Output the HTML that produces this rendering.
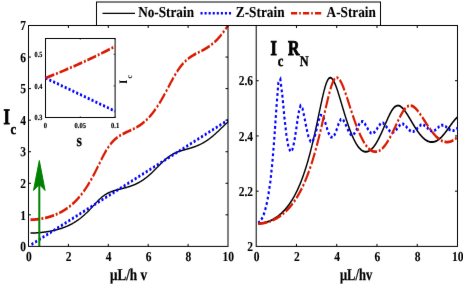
<!DOCTYPE html><html><head><meta charset="utf-8"><style>html,body{margin:0;padding:0;background:#fff}svg{display:block}text{text-rendering:geometricPrecision;font-family:"Liberation Serif",serif;font-weight:bold;fill:#000}</style></head><body>
<svg width="463" height="284" viewBox="0 0 463 284">
<rect width="463" height="284" fill="#fff"/>
<filter id="bl" color-interpolation-filters="sRGB" x="0" y="0" width="463" height="284" filterUnits="userSpaceOnUse"><feConvolveMatrix order="3" kernelMatrix="0.0028 0.0470 0.0028 0.0470 0.8008 0.0470 0.0028 0.0470 0.0028" edgeMode="duplicate" preserveAlpha="true"/></filter><g filter="url(#bl)">
<rect width="463" height="284" fill="#fff"/>
<defs><clipPath id="cl"><rect x="28.5" y="24.5" width="200.5" height="221.9"/></clipPath><clipPath id="cr"><rect x="256.2" y="24.5" width="202.3" height="221.9"/></clipPath></defs>
<g clip-path="url(#cl)" fill="none">
<g transform="scale(0.74,1)"><path d="M41.21,233.07 L41.88,233.06 L42.55,233.05 L43.22,233.04 L43.89,233.03 L44.55,233.01 L45.22,232.99 L45.89,232.97 L46.56,232.95 L47.23,232.93 L47.90,232.90 L48.57,232.88 L49.24,232.85 L49.91,232.82 L50.57,232.79 L51.24,232.75 L51.91,232.71 L52.58,232.68 L53.25,232.63 L53.92,232.59 L54.59,232.55 L55.26,232.50 L55.93,232.45 L56.59,232.40 L57.26,232.35 L57.93,232.29 L58.60,232.24 L59.27,232.18 L59.94,232.11 L60.61,232.05 L61.28,231.98 L61.95,231.91 L62.61,231.84 L63.28,231.77 L63.95,231.69 L64.62,231.62 L65.29,231.54 L65.96,231.45 L66.63,231.37 L67.30,231.28 L67.97,231.19 L68.64,231.09 L69.30,231.00 L69.97,230.90 L70.64,230.80 L71.31,230.69 L71.98,230.58 L72.65,230.47 L73.32,230.36 L73.99,230.24 L74.66,230.12 L75.32,230.00 L75.99,229.87 L76.66,229.74 L77.33,229.61 L78.00,229.47 L78.67,229.33 L79.34,229.19 L80.01,229.04 L80.68,228.89 L81.34,228.74 L82.01,228.58 L82.68,228.42 L83.35,228.25 L84.02,228.08 L84.69,227.91 L85.36,227.73 L86.03,227.55 L86.70,227.36 L87.36,227.17 L88.03,226.98 L88.70,226.78 L89.37,226.57 L90.04,226.36 L90.71,226.15 L91.38,225.93 L92.05,225.70 L92.72,225.47 L93.39,225.24 L94.05,225.00 L94.72,224.75 L95.39,224.50 L96.06,224.25 L96.73,223.98 L97.40,223.72 L98.07,223.44 L98.74,223.16 L99.41,222.88 L100.07,222.58 L100.74,222.28 L101.41,221.98 L102.08,221.67 L102.75,221.35 L103.42,221.02 L104.09,220.69 L104.76,220.35 L105.43,220.01 L106.09,219.66 L106.76,219.30 L107.43,218.93 L108.10,218.56 L108.77,218.17 L109.44,217.79 L110.11,217.39 L110.78,216.98 L111.45,216.57 L112.11,216.15 L112.78,215.73 L113.45,215.29 L114.12,214.85 L114.79,214.40 L115.46,213.95 L116.13,213.48 L116.80,213.01 L117.47,212.53 L118.14,212.05 L118.80,211.56 L119.47,211.06 L120.14,210.55 L120.81,210.04 L121.48,209.52 L122.15,209.00 L122.82,208.47 L123.49,207.94 L124.16,207.40 L124.82,206.86 L125.49,206.32 L126.16,205.78 L126.83,205.23 L127.50,204.68 L128.17,204.14 L128.84,203.60 L129.51,203.06 L130.18,202.52 L130.84,201.99 L131.51,201.47 L132.18,200.95 L132.85,200.45 L133.52,199.95 L134.19,199.46 L134.86,198.99 L135.53,198.53 L136.20,198.08 L136.86,197.65 L137.53,197.23 L138.20,196.83 L138.87,196.43 L139.54,196.06 L140.21,195.69 L140.88,195.35 L141.55,195.01 L142.22,194.69 L142.89,194.38 L143.55,194.08 L144.22,193.79 L144.89,193.52 L145.56,193.26 L146.23,193.01 L146.90,192.77 L147.57,192.54 L148.24,192.31 L148.91,192.10 L149.57,191.90 L150.24,191.70 L150.91,191.51 L151.58,191.33 L152.25,191.15 L152.92,190.99 L153.59,190.82 L154.26,190.67 L154.93,190.51 L155.59,190.37 L156.26,190.22 L156.93,190.08 L157.60,189.95 L158.27,189.81 L158.94,189.68 L159.61,189.55 L160.28,189.43 L160.95,189.30 L161.61,189.18 L162.28,189.06 L162.95,188.94 L163.62,188.81 L164.29,188.69 L164.96,188.57 L165.63,188.45 L166.30,188.33 L166.97,188.20 L167.64,188.07 L168.30,187.95 L168.97,187.82 L169.64,187.68 L170.31,187.55 L170.98,187.41 L171.65,187.27 L172.32,187.13 L172.99,186.98 L173.66,186.83 L174.32,186.67 L174.99,186.52 L175.66,186.35 L176.33,186.18 L177.00,186.01 L177.67,185.83 L178.34,185.65 L179.01,185.46 L179.68,185.27 L180.34,185.07 L181.01,184.87 L181.68,184.66 L182.35,184.44 L183.02,184.22 L183.69,183.99 L184.36,183.75 L185.03,183.51 L185.70,183.26 L186.36,183.00 L187.03,182.74 L187.70,182.47 L188.37,182.19 L189.04,181.91 L189.71,181.62 L190.38,181.32 L191.05,181.01 L191.72,180.70 L192.39,180.38 L193.05,180.05 L193.72,179.71 L194.39,179.36 L195.06,179.01 L195.73,178.65 L196.40,178.28 L197.07,177.91 L197.74,177.53 L198.41,177.13 L199.07,176.74 L199.74,176.33 L200.41,175.92 L201.08,175.50 L201.75,175.07 L202.42,174.64 L203.09,174.19 L203.76,173.75 L204.43,173.29 L205.09,172.83 L205.76,172.37 L206.43,171.89 L207.10,171.42 L207.77,170.94 L208.44,170.45 L209.11,169.96 L209.78,169.46 L210.45,168.96 L211.11,168.46 L211.78,167.96 L212.45,167.46 L213.12,166.95 L213.79,166.44 L214.46,165.94 L215.13,165.43 L215.80,164.92 L216.47,164.42 L217.14,163.92 L217.80,163.43 L218.47,162.93 L219.14,162.45 L219.81,161.97 L220.48,161.49 L221.15,161.03 L221.82,160.57 L222.49,160.12 L223.16,159.67 L223.82,159.24 L224.49,158.82 L225.16,158.41 L225.83,158.01 L226.50,157.62 L227.17,157.24 L227.84,156.87 L228.51,156.51 L229.18,156.16 L229.84,155.83 L230.51,155.50 L231.18,155.19 L231.85,154.89 L232.52,154.60 L233.19,154.32 L233.86,154.04 L234.53,153.78 L235.20,153.53 L235.86,153.29 L236.53,153.05 L237.20,152.83 L237.87,152.61 L238.54,152.40 L239.21,152.20 L239.88,152.00 L240.55,151.81 L241.22,151.63 L241.89,151.45 L242.55,151.28 L243.22,151.12 L243.89,150.95 L244.56,150.80 L245.23,150.64 L245.90,150.49 L246.57,150.34 L247.24,150.20 L247.91,150.06 L248.57,149.91 L249.24,149.77 L249.91,149.64 L250.58,149.50 L251.25,149.36 L251.92,149.23 L252.59,149.09 L253.26,148.95 L253.93,148.82 L254.59,148.68 L255.26,148.54 L255.93,148.40 L256.60,148.25 L257.27,148.11 L257.94,147.96 L258.61,147.81 L259.28,147.65 L259.95,147.50 L260.61,147.34 L261.28,147.17 L261.95,147.01 L262.62,146.83 L263.29,146.66 L263.96,146.48 L264.63,146.29 L265.30,146.10 L265.97,145.90 L266.64,145.70 L267.30,145.49 L267.97,145.28 L268.64,145.06 L269.31,144.84 L269.98,144.61 L270.65,144.37 L271.32,144.13 L271.99,143.88 L272.66,143.62 L273.32,143.36 L273.99,143.09 L274.66,142.81 L275.33,142.53 L276.00,142.24 L276.67,141.94 L277.34,141.63 L278.01,141.32 L278.68,141.00 L279.34,140.67 L280.01,140.34 L280.68,140.00 L281.35,139.65 L282.02,139.29 L282.69,138.93 L283.36,138.56 L284.03,138.18 L284.70,137.80 L285.36,137.41 L286.03,137.01 L286.70,136.60 L287.37,136.19 L288.04,135.78 L288.71,135.35 L289.38,134.93 L290.05,134.49 L290.72,134.05 L291.39,133.60 L292.05,133.15 L292.72,132.70 L293.39,132.24 L294.06,131.78 L294.73,131.31 L295.40,130.84 L296.07,130.37 L296.74,129.89 L297.41,129.42 L298.07,128.94 L298.74,128.46 L299.41,127.98 L300.08,127.50 L300.75,127.02 L301.42,126.54 L302.09,126.06 L302.76,125.59 L303.43,125.12 L304.09,124.65 L304.76,124.18 L305.43,123.72 L306.10,123.27 L306.77,122.82 L307.44,122.37 L308.11,121.93" stroke="#000" stroke-width="1.5" fill="none"  stroke-dashoffset="0"/></g>
<g transform="scale(0.74,1)"><path d="M42.56,244.51 L43.89,243.88 L45.23,243.26 L46.56,242.63 L47.90,242.01 L49.23,241.38 L50.56,240.76 L51.90,240.13 L53.23,239.51 L54.57,238.88 L55.90,238.26 L57.24,237.63 L58.57,237.01 L59.90,236.38 L61.24,235.76 L62.57,235.13 L63.91,234.51 L65.24,233.88 L66.58,233.26 L67.91,232.64 L69.25,232.01 L70.58,231.39 L71.91,230.76 L73.25,230.14 L74.58,229.51 L75.92,228.89 L77.25,228.26 L78.59,227.64 L79.92,227.01 L81.26,226.39 L82.59,225.76 L83.92,225.14 L85.26,224.51 L86.59,223.89 L87.93,223.26 L89.26,222.64 L90.60,222.01 L91.93,221.39 L93.27,220.76 L94.60,220.14 L95.93,219.51 L97.27,218.89 L98.60,218.26 L99.94,217.64 L101.27,217.02 L102.61,216.39 L103.94,215.77 L105.28,215.14 L106.61,214.52 L107.94,213.89 L109.28,213.27 L110.61,212.64 L111.95,212.02 L113.28,211.39 L114.62,210.77 L115.95,210.14 L117.29,209.52 L118.62,208.89 L119.95,208.27 L121.29,207.64 L122.62,207.02 L123.96,206.39 L125.29,205.77 L126.63,205.14 L127.96,204.52 L129.30,203.89 L130.63,203.27 L131.96,202.64 L133.30,202.02 L134.63,201.40 L135.97,200.77 L137.30,200.15 L138.64,199.52 L139.97,198.90 L141.30,198.27 L142.64,197.65 L143.97,197.02 L145.31,196.40 L146.64,195.77 L147.98,195.15 L149.31,194.52 L150.65,193.90 L151.98,193.27 L153.31,192.65 L154.65,192.02 L155.98,191.40 L157.32,190.77 L158.65,190.15 L159.99,189.52 L161.32,188.90 L162.66,188.27 L163.99,187.65 L165.32,187.02 L166.66,186.40 L167.99,185.78 L169.33,185.15 L170.66,184.53 L172.00,183.90 L173.33,183.28 L174.67,182.65 L176.00,182.03 L177.33,181.40 L178.67,180.78 L180.00,180.15 L181.34,179.53 L182.67,178.90 L184.01,178.28 L185.34,177.65 L186.68,177.03 L188.01,176.40 L189.34,175.78 L190.68,175.15 L192.01,174.53 L193.35,173.90 L194.68,173.28 L196.02,172.65 L197.35,172.03 L198.69,171.41 L200.02,170.78 L201.35,170.16 L202.69,169.53 L204.02,168.91 L205.36,168.28 L206.69,167.66 L208.03,167.03 L209.36,166.41 L210.70,165.78 L212.03,165.16 L213.36,164.53 L214.70,163.91 L216.03,163.28 L217.37,162.66 L218.70,162.03 L220.04,161.41 L221.37,160.78 L222.70,160.16 L224.04,159.53 L225.37,158.91 L226.71,158.28 L228.04,157.66 L229.38,157.03 L230.71,156.41 L232.05,155.79 L233.38,155.16 L234.71,154.54 L236.05,153.91 L237.38,153.29 L238.72,152.66 L240.05,152.04 L241.39,151.41 L242.72,150.79 L244.06,150.16 L245.39,149.54 L246.72,148.91 L248.06,148.29 L249.39,147.66 L250.73,147.04 L252.06,146.41 L253.40,145.79 L254.73,145.16 L256.07,144.54 L257.40,143.91 L258.73,143.29 L260.07,142.66 L261.40,142.04 L262.74,141.41 L264.07,140.79 L265.41,140.17 L266.74,139.54 L268.08,138.92 L269.41,138.29 L270.74,137.67 L272.08,137.04 L273.41,136.42 L274.75,135.79 L276.08,135.17 L277.42,134.54 L278.75,133.92 L280.09,133.29 L281.42,132.67 L282.75,132.04 L284.09,131.42 L285.42,130.79 L286.76,130.17 L288.09,129.54 L289.43,128.92 L290.76,128.29 L292.10,127.67 L293.43,127.04 L294.76,126.42 L296.10,125.79 L297.43,125.17 L298.77,124.55 L300.10,123.92 L301.44,123.30 L302.77,122.67 L304.10,122.05 L305.44,121.42 L306.77,120.80 L308.11,120.17" stroke="#0000ff" stroke-width="2.9" fill="none" stroke-dasharray="2.8 2.7" stroke-dashoffset="0"/></g>
<g transform="scale(0.74,1)"><path d="M41.21,219.75 L41.88,219.73 L42.55,219.71 L43.22,219.69 L43.89,219.67 L44.55,219.64 L45.22,219.61 L45.89,219.58 L46.56,219.54 L47.23,219.50 L47.90,219.46 L48.57,219.42 L49.24,219.37 L49.91,219.31 L50.57,219.26 L51.24,219.20 L51.91,219.14 L52.58,219.07 L53.25,219.00 L53.92,218.93 L54.59,218.85 L55.26,218.77 L55.93,218.69 L56.59,218.60 L57.26,218.51 L57.93,218.42 L58.60,218.32 L59.27,218.22 L59.94,218.12 L60.61,218.01 L61.28,217.90 L61.95,217.78 L62.61,217.66 L63.28,217.54 L63.95,217.41 L64.62,217.28 L65.29,217.14 L65.96,217.00 L66.63,216.86 L67.30,216.71 L67.97,216.56 L68.64,216.40 L69.30,216.24 L69.97,216.07 L70.64,215.90 L71.31,215.73 L71.98,215.55 L72.65,215.36 L73.32,215.17 L73.99,214.98 L74.66,214.78 L75.32,214.57 L75.99,214.36 L76.66,214.15 L77.33,213.93 L78.00,213.70 L78.67,213.47 L79.34,213.24 L80.01,213.00 L80.68,212.75 L81.34,212.49 L82.01,212.23 L82.68,211.97 L83.35,211.70 L84.02,211.42 L84.69,211.13 L85.36,210.84 L86.03,210.55 L86.70,210.24 L87.36,209.93 L88.03,209.61 L88.70,209.29 L89.37,208.96 L90.04,208.62 L90.71,208.27 L91.38,207.92 L92.05,207.55 L92.72,207.18 L93.39,206.81 L94.05,206.42 L94.72,206.03 L95.39,205.62 L96.06,205.21 L96.73,204.79 L97.40,204.36 L98.07,203.92 L98.74,203.48 L99.41,203.02 L100.07,202.56 L100.74,202.08 L101.41,201.60 L102.08,201.10 L102.75,200.60 L103.42,200.08 L104.09,199.55 L104.76,199.02 L105.43,198.47 L106.09,197.91 L106.76,197.34 L107.43,196.76 L108.10,196.17 L108.77,195.57 L109.44,194.95 L110.11,194.33 L110.78,193.69 L111.45,193.04 L112.11,192.38 L112.78,191.70 L113.45,191.01 L114.12,190.31 L114.79,189.60 L115.46,188.88 L116.13,188.14 L116.80,187.39 L117.47,186.62 L118.14,185.85 L118.80,185.06 L119.47,184.26 L120.14,183.44 L120.81,182.61 L121.48,181.77 L122.15,180.92 L122.82,180.05 L123.49,179.17 L124.16,178.28 L124.82,177.38 L125.49,176.47 L126.16,175.54 L126.83,174.60 L127.50,173.66 L128.17,172.70 L128.84,171.73 L129.51,170.76 L130.18,169.77 L130.84,168.78 L131.51,167.79 L132.18,166.79 L132.85,165.78 L133.52,164.77 L134.19,163.76 L134.86,162.75 L135.53,161.75 L136.20,160.74 L136.86,159.74 L137.53,158.75 L138.20,157.77 L138.87,156.80 L139.54,155.84 L140.21,154.90 L140.88,153.97 L141.55,153.06 L142.22,152.17 L142.89,151.31 L143.55,150.46 L144.22,149.64 L144.89,148.84 L145.56,148.06 L146.23,147.31 L146.90,146.59 L147.57,145.89 L148.24,145.21 L148.91,144.55 L149.57,143.92 L150.24,143.31 L150.91,142.72 L151.58,142.16 L152.25,141.62 L152.92,141.09 L153.59,140.59 L154.26,140.11 L154.93,139.64 L155.59,139.19 L156.26,138.76 L156.93,138.35 L157.60,137.95 L158.27,137.57 L158.94,137.19 L159.61,136.84 L160.28,136.49 L160.95,136.16 L161.61,135.84 L162.28,135.53 L162.95,135.23 L163.62,134.94 L164.29,134.66 L164.96,134.38 L165.63,134.12 L166.30,133.86 L166.97,133.60 L167.64,133.35 L168.30,133.11 L168.97,132.87 L169.64,132.63 L170.31,132.40 L170.98,132.17 L171.65,131.94 L172.32,131.72 L172.99,131.49 L173.66,131.27 L174.32,131.04 L174.99,130.82 L175.66,130.59 L176.33,130.36 L177.00,130.13 L177.67,129.90 L178.34,129.67 L179.01,129.43 L179.68,129.19 L180.34,128.94 L181.01,128.69 L181.68,128.44 L182.35,128.18 L183.02,127.91 L183.69,127.64 L184.36,127.37 L185.03,127.08 L185.70,126.79 L186.36,126.50 L187.03,126.19 L187.70,125.88 L188.37,125.55 L189.04,125.22 L189.71,124.89 L190.38,124.54 L191.05,124.18 L191.72,123.81 L192.39,123.44 L193.05,123.05 L193.72,122.66 L194.39,122.25 L195.06,121.83 L195.73,121.40 L196.40,120.96 L197.07,120.51 L197.74,120.04 L198.41,119.57 L199.07,119.08 L199.74,118.58 L200.41,118.07 L201.08,117.55 L201.75,117.01 L202.42,116.46 L203.09,115.90 L203.76,115.33 L204.43,114.74 L205.09,114.14 L205.76,113.53 L206.43,112.90 L207.10,112.26 L207.77,111.61 L208.44,110.94 L209.11,110.26 L209.78,109.57 L210.45,108.86 L211.11,108.15 L211.78,107.41 L212.45,106.67 L213.12,105.91 L213.79,105.14 L214.46,104.36 L215.13,103.57 L215.80,102.76 L216.47,101.95 L217.14,101.12 L217.80,100.28 L218.47,99.43 L219.14,98.57 L219.81,97.70 L220.48,96.82 L221.15,95.93 L221.82,95.03 L222.49,94.13 L223.16,93.22 L223.82,92.30 L224.49,91.38 L225.16,90.45 L225.83,89.52 L226.50,88.59 L227.17,87.65 L227.84,86.71 L228.51,85.78 L229.18,84.84 L229.84,83.91 L230.51,82.97 L231.18,82.05 L231.85,81.13 L232.52,80.21 L233.19,79.30 L233.86,78.40 L234.53,77.51 L235.20,76.64 L235.86,75.77 L236.53,74.92 L237.20,74.08 L237.87,73.26 L238.54,72.45 L239.21,71.66 L239.88,70.89 L240.55,70.13 L241.22,69.40 L241.89,68.68 L242.55,67.98 L243.22,67.30 L243.89,66.64 L244.56,66.00 L245.23,65.37 L245.90,64.77 L246.57,64.19 L247.24,63.62 L247.91,63.07 L248.57,62.54 L249.24,62.03 L249.91,61.53 L250.58,61.05 L251.25,60.59 L251.92,60.14 L252.59,59.71 L253.26,59.29 L253.93,58.89 L254.59,58.50 L255.26,58.12 L255.93,57.75 L256.60,57.40 L257.27,57.06 L257.94,56.72 L258.61,56.40 L259.28,56.08 L259.95,55.78 L260.61,55.48 L261.28,55.18 L261.95,54.90 L262.62,54.62 L263.29,54.35 L263.96,54.08 L264.63,53.81 L265.30,53.55 L265.97,53.29 L266.64,53.03 L267.30,52.78 L267.97,52.52 L268.64,52.27 L269.31,52.02 L269.98,51.77 L270.65,51.51 L271.32,51.26 L271.99,51.00 L272.66,50.75 L273.32,50.49 L273.99,50.22 L274.66,49.95 L275.33,49.68 L276.00,49.41 L276.67,49.13 L277.34,48.84 L278.01,48.55 L278.68,48.25 L279.34,47.95 L280.01,47.64 L280.68,47.32 L281.35,46.99 L282.02,46.66 L282.69,46.32 L283.36,45.97 L284.03,45.61 L284.70,45.25 L285.36,44.87 L286.03,44.48 L286.70,44.09 L287.37,43.68 L288.04,43.27 L288.71,42.84 L289.38,42.40 L290.05,41.95 L290.72,41.50 L291.39,41.03 L292.05,40.54 L292.72,40.05 L293.39,39.54 L294.06,39.03 L294.73,38.50 L295.40,37.95 L296.07,37.40 L296.74,36.83 L297.41,36.26 L298.07,35.67 L298.74,35.06 L299.41,34.45 L300.08,33.82 L300.75,33.18 L301.42,32.53 L302.09,31.86 L302.76,31.18 L303.43,30.49 L304.09,29.79 L304.76,29.08 L305.43,28.36 L306.10,27.62 L306.77,26.87 L307.44,26.11 L308.11,25.35" stroke="#d91a00" stroke-width="2.8" fill="none" stroke-dasharray="12.4 2.4 2.6 2.4" stroke-dashoffset="0"/></g>
</g>
<path d="M39.3,246.4 V184" stroke="#008000" stroke-width="2.0" fill="none"/>
<path d="M39.3,160.5 L45.1,190.5 L39.3,184.5 L33.5,190.5 Z" fill="#008000" stroke="#008000" stroke-width="1" stroke-linejoin="round"/>
<g fill="none" stroke="#000" stroke-width="1">
<rect x="28.5" y="25.5" width="199.5" height="220.9"/>
<rect x="256.2" y="25.5" width="201.3" height="220.9"/>
<path d="M68.4,246.4 v-2.5 M68.4,25.5 v2.5 M108.3,246.4 v-2.5 M108.3,25.5 v2.5 M148.2,246.4 v-2.5 M148.2,25.5 v2.5 M188.1,246.4 v-2.5 M188.1,25.5 v2.5 M28.5,214.843 h2.5 M228,214.843 h-2.5 M28.5,183.286 h2.5 M228,183.286 h-2.5 M28.5,151.729 h2.5 M228,151.729 h-2.5 M28.5,120.171 h2.5 M228,120.171 h-2.5 M28.5,88.6143 h2.5 M228,88.6143 h-2.5 M28.5,57.0571 h2.5 M228,57.0571 h-2.5 M296.46,246.4 v-2.5 M296.46,25.5 v2.5 M336.72,246.4 v-2.5 M336.72,25.5 v2.5 M376.98,246.4 v-2.5 M376.98,25.5 v2.5 M417.24,246.4 v-2.5 M417.24,25.5 v2.5 M256.2,191.175 h2.5 M457.5,191.175 h-2.5 M256.2,135.95 h2.5 M457.5,135.95 h-2.5 M256.2,80.725 h2.5 M457.5,80.725 h-2.5"/>
</g>
<text transform="translate(26,251.1) scale(0.84,1)" font-size="13.7" text-anchor="end" stroke="#000" stroke-width="0.1">0</text>
<text transform="translate(26,219.543) scale(0.84,1)" font-size="13.7" text-anchor="end" stroke="#000" stroke-width="0.1">1</text>
<text transform="translate(26,187.986) scale(0.84,1)" font-size="13.7" text-anchor="end" stroke="#000" stroke-width="0.1">2</text>
<text transform="translate(26,156.429) scale(0.84,1)" font-size="13.7" text-anchor="end" stroke="#000" stroke-width="0.1">3</text>
<text transform="translate(26,124.871) scale(0.84,1)" font-size="13.7" text-anchor="end" stroke="#000" stroke-width="0.1">4</text>
<text transform="translate(26,93.3143) scale(0.84,1)" font-size="13.7" text-anchor="end" stroke="#000" stroke-width="0.1">5</text>
<text transform="translate(26,61.7571) scale(0.84,1)" font-size="13.7" text-anchor="end" stroke="#000" stroke-width="0.1">6</text>
<text transform="translate(26,30.2) scale(0.84,1)" font-size="13.7" text-anchor="end" stroke="#000" stroke-width="0.1">7</text>
<text transform="translate(28.8,261.4) scale(0.84,1)" font-size="13.7" text-anchor="middle" stroke="#000" stroke-width="0.1">0</text>
<text transform="translate(256.5,261.4) scale(0.84,1)" font-size="13.7" text-anchor="middle" stroke="#000" stroke-width="0.1">0</text>
<text transform="translate(68.7,261.4) scale(0.84,1)" font-size="13.7" text-anchor="middle" stroke="#000" stroke-width="0.1">2</text>
<text transform="translate(296.76,261.4) scale(0.84,1)" font-size="13.7" text-anchor="middle" stroke="#000" stroke-width="0.1">2</text>
<text transform="translate(108.6,261.4) scale(0.84,1)" font-size="13.7" text-anchor="middle" stroke="#000" stroke-width="0.1">4</text>
<text transform="translate(337.02,261.4) scale(0.84,1)" font-size="13.7" text-anchor="middle" stroke="#000" stroke-width="0.1">4</text>
<text transform="translate(148.5,261.4) scale(0.84,1)" font-size="13.7" text-anchor="middle" stroke="#000" stroke-width="0.1">6</text>
<text transform="translate(377.28,261.4) scale(0.84,1)" font-size="13.7" text-anchor="middle" stroke="#000" stroke-width="0.1">6</text>
<text transform="translate(188.4,261.4) scale(0.84,1)" font-size="13.7" text-anchor="middle" stroke="#000" stroke-width="0.1">8</text>
<text transform="translate(417.54,261.4) scale(0.84,1)" font-size="13.7" text-anchor="middle" stroke="#000" stroke-width="0.1">8</text>
<text transform="translate(228.3,261.4) scale(0.84,1)" font-size="13.7" text-anchor="middle" stroke="#000" stroke-width="0.1">10</text>
<text transform="translate(457.8,261.4) scale(0.84,1)" font-size="13.7" text-anchor="middle" stroke="#000" stroke-width="0.1">10</text>
<text transform="translate(253,251.1) scale(0.84,1)" font-size="13.7" text-anchor="end" stroke="#000" stroke-width="0.1">2</text>
<text transform="translate(253,195.875) scale(0.84,1)" font-size="13.7" text-anchor="end" stroke="#000" stroke-width="0.1">2.2</text>
<text transform="translate(253,140.65) scale(0.84,1)" font-size="13.7" text-anchor="end" stroke="#000" stroke-width="0.1">2.4</text>
<text transform="translate(253,85.425) scale(0.84,1)" font-size="13.7" text-anchor="end" stroke="#000" stroke-width="0.1">2.6</text>
<text transform="translate(128.5,280.2) scale(0.8,1)" font-size="16.5" text-anchor="middle" stroke="#000" stroke-width="0.25">μL/h v</text>
<text transform="translate(356.1,280.2) scale(0.76,1)" font-size="16.5" text-anchor="middle" stroke="#000" stroke-width="0.25">μL/hv</text>
<text transform="translate(3.6,124) scale(0.75,1)" font-size="22" text-anchor="start" stroke="#000" stroke-width="0.9">I</text>
<text transform="translate(10.6,134) scale(0.85,1)" font-size="15" text-anchor="start" stroke="#000" stroke-width="0.4">c</text>
<text transform="translate(270.6,55) scale(0.78,1)" font-size="21" text-anchor="start" stroke="#000" stroke-width="0.9">I</text>
<text transform="translate(277.8,65.5) scale(0.82,1)" font-size="15.5" text-anchor="start" stroke="#000" stroke-width="0.4">c</text>
<text transform="translate(287.9,55) scale(0.76,1)" font-size="21" text-anchor="start" stroke="#000" stroke-width="0.9">R</text>
<text transform="translate(299.8,65.5) scale(0.82,1)" font-size="15" text-anchor="start" stroke="#000" stroke-width="0.4">N</text>
<g clip-path="url(#cr)" fill="none">
<g transform="scale(0.74,1)"><path d="M348.94,223.68 L349.61,223.65 L350.29,223.61 L350.96,223.56 L351.64,223.50 L352.31,223.44 L352.99,223.37 L353.66,223.29 L354.34,223.21 L355.01,223.11 L355.69,223.01 L356.36,222.90 L357.04,222.79 L357.71,222.66 L358.39,222.53 L359.06,222.39 L359.74,222.24 L360.41,222.09 L361.09,221.92 L361.76,221.75 L362.44,221.57 L363.11,221.38 L363.79,221.18 L364.46,220.97 L365.14,220.76 L365.81,220.53 L366.49,220.30 L367.16,220.06 L367.84,219.80 L368.51,219.54 L369.19,219.27 L369.86,218.99 L370.54,218.70 L371.21,218.40 L371.88,218.09 L372.56,217.77 L373.23,217.44 L373.91,217.09 L374.58,216.74 L375.26,216.38 L375.93,216.00 L376.61,215.61 L377.28,215.21 L377.96,214.80 L378.63,214.38 L379.31,213.94 L379.98,213.50 L380.66,213.03 L381.33,212.56 L382.01,212.07 L382.68,211.57 L383.36,211.05 L384.03,210.52 L384.71,209.98 L385.38,209.42 L386.06,208.84 L386.73,208.25 L387.41,207.65 L388.08,207.02 L388.76,206.38 L389.43,205.73 L390.11,205.05 L390.78,204.36 L391.46,203.65 L392.13,202.92 L392.81,202.17 L393.48,201.40 L394.16,200.62 L394.83,199.81 L395.51,198.98 L396.18,198.13 L396.86,197.26 L397.53,196.36 L398.21,195.45 L398.88,194.51 L399.56,193.54 L400.23,192.55 L400.91,191.54 L401.58,190.50 L402.26,189.43 L402.93,188.34 L403.61,187.22 L404.28,186.08 L404.96,184.90 L405.63,183.70 L406.31,182.47 L406.98,181.20 L407.66,179.91 L408.33,178.58 L409.01,177.23 L409.68,175.84 L410.36,174.41 L411.03,172.96 L411.71,171.47 L412.38,169.94 L413.06,168.38 L413.73,166.79 L414.41,165.16 L415.08,163.49 L415.76,161.78 L416.43,160.04 L417.11,158.26 L417.78,156.44 L418.46,154.59 L419.13,152.70 L419.81,150.77 L420.48,148.80 L421.16,146.79 L421.83,144.75 L422.51,142.67 L423.18,140.55 L423.86,138.40 L424.53,136.22 L425.21,134.00 L425.88,131.75 L426.56,129.48 L427.23,127.17 L427.91,124.84 L428.58,122.49 L429.26,120.13 L429.93,117.74 L430.61,115.35 L431.28,112.96 L431.96,110.57 L432.63,108.18 L433.31,105.81 L433.98,103.46 L434.66,101.15 L435.33,98.88 L436.01,96.67 L436.68,94.52 L437.36,92.44 L438.03,90.46 L438.71,88.58 L439.38,86.82 L440.06,85.19 L440.73,83.70 L441.41,82.36 L442.08,81.18 L442.76,80.16 L443.43,79.32 L444.11,78.65 L444.78,78.16 L445.45,77.84 L446.13,77.69 L446.80,77.71 L447.48,77.89 L448.15,78.22 L448.83,78.69 L449.50,79.30 L450.18,80.04 L450.85,80.89 L451.53,81.85 L452.20,82.92 L452.88,84.08 L453.55,85.32 L454.23,86.63 L454.90,88.01 L455.58,89.45 L456.25,90.95 L456.93,92.48 L457.60,94.06 L458.28,95.67 L458.95,97.30 L459.63,98.95 L460.30,100.62 L460.98,102.31 L461.65,103.99 L462.33,105.68 L463.00,107.37 L463.68,109.05 L464.35,110.72 L465.03,112.38 L465.70,114.03 L466.38,115.65 L467.05,117.26 L467.73,118.84 L468.40,120.40 L469.08,121.93 L469.75,123.43 L470.43,124.91 L471.10,126.35 L471.78,127.76 L472.45,129.13 L473.13,130.47 L473.80,131.77 L474.48,133.04 L475.15,134.27 L475.83,135.46 L476.50,136.61 L477.18,137.71 L477.85,138.78 L478.53,139.81 L479.20,140.80 L479.88,141.75 L480.55,142.65 L481.23,143.51 L481.90,144.33 L482.58,145.10 L483.25,145.84 L483.93,146.53 L484.60,147.18 L485.28,147.78 L485.95,148.34 L486.63,148.86 L487.30,149.34 L487.98,149.77 L488.65,150.16 L489.33,150.50 L490.00,150.81 L490.68,151.07 L491.35,151.28 L492.03,151.46 L492.70,151.59 L493.38,151.68 L494.05,151.72 L494.73,151.73 L495.40,151.69 L496.08,151.61 L496.75,151.49 L497.43,151.32 L498.10,151.12 L498.78,150.87 L499.45,150.58 L500.13,150.25 L500.80,149.88 L501.48,149.48 L502.15,149.03 L502.83,148.54 L503.50,148.01 L504.18,147.44 L504.85,146.84 L505.53,146.20 L506.20,145.52 L506.88,144.80 L507.55,144.05 L508.23,143.27 L508.90,142.45 L509.58,141.60 L510.25,140.71 L510.93,139.80 L511.60,138.85 L512.28,137.88 L512.95,136.88 L513.63,135.85 L514.30,134.81 L514.98,133.73 L515.65,132.64 L516.33,131.53 L517.00,130.41 L517.68,129.27 L518.35,128.12 L519.02,126.96 L519.70,125.80 L520.37,124.63 L521.05,123.47 L521.72,122.31 L522.40,121.15 L523.07,120.01 L523.75,118.89 L524.42,117.79 L525.10,116.71 L525.77,115.65 L526.45,114.63 L527.12,113.65 L527.80,112.71 L528.47,111.81 L529.15,110.96 L529.82,110.17 L530.50,109.43 L531.17,108.75 L531.85,108.13 L532.52,107.57 L533.20,107.08 L533.87,106.66 L534.55,106.31 L535.22,106.02 L535.90,105.80 L536.57,105.66 L537.25,105.58 L537.92,105.56 L538.60,105.62 L539.27,105.73 L539.95,105.91 L540.62,106.14 L541.30,106.44 L541.97,106.78 L542.65,107.18 L543.32,107.63 L544.00,108.12 L544.67,108.65 L545.35,109.23 L546.02,109.84 L546.70,110.48 L547.37,111.16 L548.05,111.86 L548.72,112.59 L549.40,113.34 L550.07,114.11 L550.75,114.90 L551.42,115.71 L552.10,116.52 L552.77,117.35 L553.45,118.18 L554.12,119.02 L554.80,119.87 L555.47,120.71 L556.15,121.56 L556.82,122.40 L557.50,123.24 L558.17,124.07 L558.85,124.90 L559.52,125.72 L560.20,126.53 L560.87,127.33 L561.55,128.11 L562.22,128.88 L562.90,129.64 L563.57,130.38 L564.25,131.11 L564.92,131.82 L565.60,132.51 L566.27,133.18 L566.95,133.83 L567.62,134.46 L568.30,135.06 L568.97,135.65 L569.65,136.21 L570.32,136.75 L571.00,137.27 L571.67,137.76 L572.35,138.22 L573.02,138.66 L573.70,139.08 L574.37,139.47 L575.05,139.83 L575.72,140.17 L576.40,140.48 L577.07,140.76 L577.75,141.02 L578.42,141.24 L579.10,141.44 L579.77,141.61 L580.45,141.76 L581.12,141.87 L581.80,141.96 L582.47,142.02 L583.15,142.05 L583.82,142.05 L584.50,142.02 L585.17,141.97 L585.85,141.89 L586.52,141.77 L587.20,141.64 L587.87,141.47 L588.55,141.27 L589.22,141.05 L589.90,140.80 L590.57,140.53 L591.25,140.23 L591.92,139.90 L592.59,139.54 L593.27,139.16 L593.94,138.76 L594.62,138.33 L595.29,137.88 L595.97,137.41 L596.64,136.91 L597.32,136.39 L597.99,135.85 L598.67,135.30 L599.34,134.72 L600.02,134.12 L600.69,133.51 L601.37,132.89 L602.04,132.25 L602.72,131.59 L603.39,130.93 L604.07,130.25 L604.74,129.57 L605.42,128.88 L606.09,128.18 L606.77,127.49 L607.44,126.79 L608.12,126.09 L608.79,125.39 L609.47,124.70 L610.14,124.01 L610.82,123.33 L611.49,122.66 L612.17,122.01 L612.84,121.37 L613.52,120.75 L614.19,120.15 L614.87,119.57 L615.54,119.01 L616.22,118.48 L616.89,117.98 L617.57,117.50 L618.24,117.06" stroke="#000" stroke-width="1.9" fill="none"  stroke-dashoffset="0"/></g>
<g transform="scale(0.74,1)"><path d="M348.94,223.14 L351.66,221.28 L354.38,218.00 L357.10,213.00 L359.82,205.83 L362.54,195.79 L365.26,181.96 L367.98,163.19 L370.70,138.50 L373.42,108.82 L376.14,83.02 L378.86,79.49 L381.58,95.76 L384.30,116.99 L387.02,135.00 L389.74,146.79 L392.46,151.61 L395.18,149.50 L397.90,140.97 L400.62,127.55 L403.34,113.40 L406.06,105.80 L408.78,108.55 L411.50,117.84 L414.22,128.40 L416.94,136.83 L419.66,141.43 L422.38,141.52 L425.10,137.17 L427.82,129.40 L430.54,120.73 L433.26,115.18 L435.99,115.45 L438.71,120.49 L441.43,127.30 L444.15,133.31 L446.87,136.94 L449.59,137.40 L452.31,134.64 L455.03,129.41 L457.75,123.47 L460.47,119.45 L463.19,119.22 L465.91,122.43 L468.63,127.23 L471.35,131.71 L474.07,134.53 L476.79,134.99 L479.51,133.00 L482.23,129.14 L484.95,124.77 L487.67,121.76 L490.39,121.47 L493.11,123.77 L495.83,127.38 L498.55,130.85 L501.27,133.08 L503.99,133.45 L506.71,131.88 L509.43,128.86 L512.15,125.48 L514.87,123.16 L517.59,122.94 L520.31,124.71 L523.03,127.57 L525.75,130.34 L528.47,132.12 L531.19,132.39 L533.91,131.08 L536.64,128.62 L539.36,125.91 L542.08,124.10 L544.80,123.94 L547.52,125.40 L550.24,127.74 L552.96,130.01 L555.68,131.45 L558.40,131.63 L561.12,130.49 L563.84,128.43 L566.56,126.20 L569.28,124.75 L572.00,124.67 L574.72,125.92 L577.44,127.88 L580.16,129.78 L582.88,130.96 L585.60,131.06 L588.32,130.04 L591.04,128.27 L593.76,126.41 L596.48,125.24 L599.20,125.23 L601.92,126.32 L604.64,128.00 L607.36,129.61 L610.08,130.58 L612.80,130.61 L615.52,129.69 L618.24,128.14" stroke="#0000ff" stroke-width="2.9" fill="none" stroke-dasharray="2.8 2.7" stroke-dashoffset="0"/></g>
<g transform="scale(0.74,1)"><path d="M348.94,223.69 L349.61,223.66 L350.29,223.63 L350.96,223.58 L351.64,223.54 L352.31,223.48 L352.99,223.43 L353.66,223.36 L354.34,223.29 L355.01,223.21 L355.69,223.12 L356.36,223.03 L357.04,222.93 L357.71,222.83 L358.39,222.72 L359.06,222.60 L359.74,222.47 L360.41,222.34 L361.09,222.21 L361.76,222.06 L362.44,221.91 L363.11,221.75 L363.79,221.58 L364.46,221.41 L365.14,221.23 L365.81,221.04 L366.49,220.85 L367.16,220.64 L367.84,220.43 L368.51,220.21 L369.19,219.99 L369.86,219.75 L370.54,219.51 L371.21,219.26 L371.88,219.00 L372.56,218.74 L373.23,218.46 L373.91,218.18 L374.58,217.89 L375.26,217.59 L375.93,217.28 L376.61,216.96 L377.28,216.63 L377.96,216.29 L378.63,215.94 L379.31,215.58 L379.98,215.22 L380.66,214.84 L381.33,214.45 L382.01,214.05 L382.68,213.64 L383.36,213.22 L384.03,212.79 L384.71,212.35 L385.38,211.90 L386.06,211.43 L386.73,210.95 L387.41,210.46 L388.08,209.96 L388.76,209.44 L389.43,208.91 L390.11,208.37 L390.78,207.82 L391.46,207.25 L392.13,206.67 L392.81,206.07 L393.48,205.46 L394.16,204.83 L394.83,204.19 L395.51,203.54 L396.18,202.86 L396.86,202.17 L397.53,201.47 L398.21,200.75 L398.88,200.01 L399.56,199.25 L400.23,198.48 L400.91,197.68 L401.58,196.87 L402.26,196.04 L402.93,195.19 L403.61,194.32 L404.28,193.43 L404.96,192.51 L405.63,191.58 L406.31,190.63 L406.98,189.65 L407.66,188.66 L408.33,187.64 L409.01,186.59 L409.68,185.52 L410.36,184.43 L411.03,183.31 L411.71,182.17 L412.38,181.00 L413.06,179.81 L413.73,178.59 L414.41,177.34 L415.08,176.07 L415.76,174.77 L416.43,173.43 L417.11,172.07 L417.78,170.68 L418.46,169.26 L419.13,167.82 L419.81,166.34 L420.48,164.83 L421.16,163.29 L421.83,161.72 L422.51,160.12 L423.18,158.48 L423.86,156.82 L424.53,155.12 L425.21,153.39 L425.88,151.62 L426.56,149.83 L427.23,148.00 L427.91,146.14 L428.58,144.26 L429.26,142.34 L429.93,140.39 L430.61,138.41 L431.28,136.40 L431.96,134.37 L432.63,132.30 L433.31,130.21 L433.98,128.10 L434.66,125.97 L435.33,123.82 L436.01,121.65 L436.68,119.47 L437.36,117.27 L438.03,115.07 L438.71,112.87 L439.38,110.67 L440.06,108.47 L440.73,106.29 L441.41,104.13 L442.08,101.99 L442.76,99.89 L443.43,97.82 L444.11,95.81 L444.78,93.86 L445.45,91.97 L446.13,90.16 L446.80,88.44 L447.48,86.83 L448.15,85.32 L448.83,83.94 L449.50,82.68 L450.18,81.55 L450.85,80.57 L451.53,79.72 L452.20,79.02 L452.88,78.47 L453.55,78.06 L454.23,77.80 L454.90,77.68 L455.58,77.71 L456.25,77.88 L456.93,78.17 L457.60,78.59 L458.28,79.12 L458.95,79.76 L459.63,80.50 L460.30,81.34 L460.98,82.27 L461.65,83.28 L462.33,84.36 L463.00,85.51 L463.68,86.73 L464.35,88.01 L465.03,89.33 L465.70,90.70 L466.38,92.11 L467.05,93.55 L467.73,95.02 L468.40,96.51 L469.08,98.02 L469.75,99.55 L470.43,101.09 L471.10,102.64 L471.78,104.19 L472.45,105.74 L473.13,107.30 L473.80,108.84 L474.48,110.38 L475.15,111.91 L475.83,113.43 L476.50,114.93 L477.18,116.42 L477.85,117.89 L478.53,119.34 L479.20,120.77 L479.88,122.17 L480.55,123.55 L481.23,124.90 L481.90,126.23 L482.58,127.53 L483.25,128.80 L483.93,130.04 L484.60,131.25 L485.28,132.44 L485.95,133.59 L486.63,134.70 L487.30,135.78 L487.98,136.83 L488.65,137.84 L489.33,138.82 L490.00,139.77 L490.68,140.68 L491.35,141.56 L492.03,142.40 L492.70,143.21 L493.38,143.98 L494.05,144.71 L494.73,145.41 L495.40,146.06 L496.08,146.69 L496.75,147.28 L497.43,147.83 L498.10,148.34 L498.78,148.82 L499.45,149.26 L500.13,149.67 L500.80,150.04 L501.48,150.37 L502.15,150.67 L502.83,150.93 L503.50,151.15 L504.18,151.34 L504.85,151.49 L505.53,151.60 L506.20,151.68 L506.88,151.72 L507.55,151.73 L508.23,151.70 L508.90,151.64 L509.58,151.54 L510.25,151.40 L510.93,151.23 L511.60,151.02 L512.28,150.78 L512.95,150.51 L513.63,150.20 L514.30,149.85 L514.98,149.48 L515.65,149.07 L516.33,148.62 L517.00,148.15 L517.68,147.63 L518.35,147.09 L519.02,146.51 L519.70,145.90 L520.37,145.27 L521.05,144.60 L521.72,143.90 L522.40,143.17 L523.07,142.42 L523.75,141.63 L524.42,140.82 L525.10,139.99 L525.77,139.12 L526.45,138.24 L527.12,137.32 L527.80,136.39 L528.47,135.44 L529.15,134.47 L529.82,133.47 L530.50,132.47 L531.17,131.44 L531.85,130.41 L532.52,129.36 L533.20,128.30 L533.87,127.24 L534.55,126.17 L535.22,125.10 L535.90,124.03 L536.57,122.96 L537.25,121.89 L537.92,120.84 L538.60,119.79 L539.27,118.76 L539.95,117.75 L540.62,116.75 L541.30,115.78 L541.97,114.84 L542.65,113.93 L543.32,113.05 L544.00,112.21 L544.67,111.41 L545.35,110.65 L546.02,109.93 L546.70,109.26 L547.37,108.65 L548.05,108.08 L548.72,107.57 L549.40,107.12 L550.07,106.73 L550.75,106.39 L551.42,106.11 L552.10,105.89 L552.77,105.73 L553.45,105.62 L554.12,105.57 L554.80,105.57 L555.47,105.63 L556.15,105.75 L556.82,105.91 L557.50,106.13 L558.17,106.40 L558.85,106.71 L559.52,107.07 L560.20,107.46 L560.87,107.90 L561.55,108.37 L562.22,108.88 L562.90,109.41 L563.57,109.99 L564.25,110.59 L564.92,111.21 L565.60,111.86 L566.27,112.53 L566.95,113.22 L567.62,113.93 L568.30,114.65 L568.97,115.38 L569.65,116.13 L570.32,116.88 L571.00,117.64 L571.67,118.42 L572.35,119.19 L573.02,119.96 L573.70,120.74 L574.37,121.52 L575.05,122.30 L575.72,123.07 L576.40,123.84 L577.07,124.60 L577.75,125.36 L578.42,126.11 L579.10,126.85 L579.77,127.58 L580.45,128.30 L581.12,129.01 L581.80,129.70 L582.47,130.38 L583.15,131.05 L583.82,131.70 L584.50,132.34 L585.17,132.96 L585.85,133.57 L586.52,134.16 L587.20,134.73 L587.87,135.28 L588.55,135.81 L589.22,136.32 L589.90,136.81 L590.57,137.29 L591.25,137.74 L591.92,138.17 L592.59,138.58 L593.27,138.97 L593.94,139.33 L594.62,139.68 L595.29,140.00 L595.97,140.30 L596.64,140.57 L597.32,140.82 L597.99,141.05 L598.67,141.26 L599.34,141.44 L600.02,141.60 L600.69,141.74 L601.37,141.85 L602.04,141.94 L602.72,142.00 L603.39,142.04 L604.07,142.05 L604.74,142.04 L605.42,142.01 L606.09,141.95 L606.77,141.87 L607.44,141.77 L608.12,141.64 L608.79,141.49 L609.47,141.32 L610.14,141.12 L610.82,140.90 L611.49,140.65 L612.17,140.39 L612.84,140.10 L613.52,139.79 L614.19,139.45 L614.87,139.10 L615.54,138.73 L616.22,138.33 L616.89,137.92 L617.57,137.49 L618.24,137.03" stroke="#d91a00" stroke-width="2.8" fill="none" stroke-dasharray="12.4 2.4 2.6 2.4" stroke-dashoffset="0"/></g>
</g>
<rect x="45.5" y="38.5" width="69.6" height="79" fill="#fff" stroke="#000" stroke-width="1"/>
<g transform="scale(0.74,1)"><path d="M61.49,78.00 L64.73,79.14 L67.97,80.29 L71.22,81.43 L74.46,82.58 L77.70,83.72 L80.95,84.86 L84.19,86.01 L87.43,87.15 L90.68,88.30 L93.92,89.44 L97.16,90.59 L100.41,91.73 L103.65,92.87 L106.89,94.02 L110.14,95.16 L113.38,96.31 L116.62,97.45 L119.86,98.59 L123.11,99.74 L126.35,100.88 L129.59,102.03 L132.84,103.17 L136.08,104.32 L139.32,105.46 L142.57,106.60 L145.81,107.75 L149.05,108.89 L152.30,110.04 L155.54,111.18" stroke="#0000ff" stroke-width="2.9" fill="none" stroke-dasharray="2.8 2.7" stroke-dashoffset="0"/></g>
<g transform="scale(0.74,1)"><path d="M61.49,78.00 L64.73,77.07 L67.97,76.13 L71.22,75.17 L74.46,74.20 L77.70,73.23 L80.95,72.24 L84.19,71.24 L87.43,70.23 L90.68,69.21 L93.92,68.17 L97.16,67.13 L100.41,66.07 L103.65,65.01 L106.89,63.93 L110.14,62.84 L113.38,61.74 L116.62,60.63 L119.86,59.50 L123.11,58.37 L126.35,57.22 L129.59,56.06 L132.84,54.90 L136.08,53.72 L139.32,52.52 L142.57,51.32 L145.81,50.11 L149.05,48.88 L152.30,47.65 L155.54,46.40" stroke="#d91a00" stroke-width="2.8" fill="none" stroke-dasharray="12.4 2.4 2.6 2.4" stroke-dashoffset="0"/></g>
<path d="M45.5,117.5 v-1.2 M45.5,38.5 v1.2 M80.3,117.5 v-1.2 M80.3,38.5 v1.2 M115.1,117.5 v-1.2 M115.1,38.5 v1.2 M115.1,117.5 h-1.5 M115.1,85.9 h-1.5 M115.1,54.3 h-1.5" stroke="#000" stroke-width="0.7" fill="none"/>
<text transform="translate(45.5,128.4) scale(0.85,1)" font-size="7.7" text-anchor="middle" stroke="#000" stroke-width="0.15">0</text>
<text transform="translate(80.3,128.4) scale(0.85,1)" font-size="7.7" text-anchor="middle" stroke="#000" stroke-width="0.15">0.05</text>
<text transform="translate(115.1,128.4) scale(0.85,1)" font-size="7.7" text-anchor="middle" stroke="#000" stroke-width="0.15">0.1</text>
<text transform="translate(42.4,120.3) scale(0.8,1)" font-size="7.8" text-anchor="end" stroke="#000" stroke-width="0.15">0.3</text>
<text transform="translate(42.4,88.7) scale(0.8,1)" font-size="7.8" text-anchor="end" stroke="#000" stroke-width="0.15">0.4</text>
<text transform="translate(42.4,57.1) scale(0.8,1)" font-size="7.8" text-anchor="end" stroke="#000" stroke-width="0.15">0.5</text>
<text transform="translate(79.2,146) scale(0.82,1)" font-size="17" text-anchor="middle" stroke="#000" stroke-width="0.25">s</text>
<g transform="translate(127,84) rotate(-90)"><text x="0" y="0" font-size="11.4">I</text><text x="5.5" y="4.9" font-size="7.8">c</text></g>
<rect x="96.5" y="2" width="284" height="23.5" fill="#fff" stroke="#000" stroke-width="1"/>
<path d="M102.5,13.3 H135" stroke="#000" stroke-width="1.3" fill="none"/>
<path d="M200.5,13.2 H233" stroke="#0000ff" stroke-width="2.6" fill="none" stroke-dasharray="2.05 2.02"/>
<path d="M291,13.2 H322.2" stroke="#d91a00" stroke-width="2.6" fill="none" stroke-dasharray="6.2 2 1.6 2.2"/>
<text transform="translate(138.2,16.7) scale(0.87,1)" font-size="15.2" text-anchor="start" stroke="#000" stroke-width="0.1">No-Strain</text>
<text transform="translate(235.8,16.7) scale(0.875,1)" font-size="15.2" text-anchor="start" stroke="#000" stroke-width="0.1">Z-Strain</text>
<text transform="translate(326.6,16.7) scale(0.87,1)" font-size="15.2" text-anchor="start" stroke="#000" stroke-width="0.1">A-Strain</text>
</g></svg></body></html>
